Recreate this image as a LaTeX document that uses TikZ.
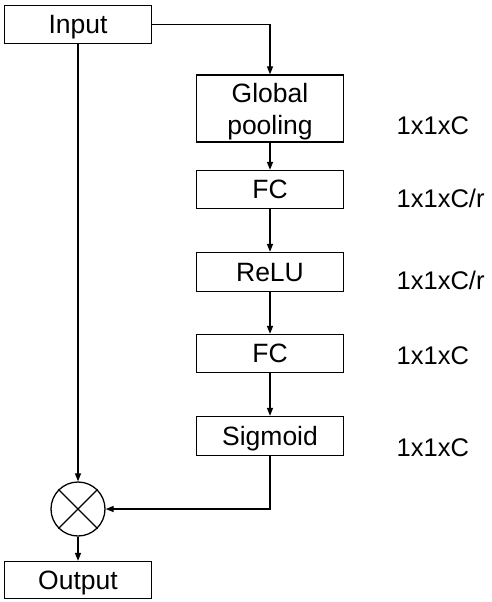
\documentclass[tikz,border=0pt]{standalone}
\usepackage{fontspec}
\setmainfont{Liberation Sans}
\usetikzlibrary{positioning, arrows.meta}

\begin{document}
\begin{tikzpicture}[x=1pt, y=-1pt, line width=1.3pt, >={Triangle[length=8pt, width=6pt]},
		blk/.style={draw, inner sep=0pt, minimum width=147pt, minimum height=38pt, text depth=0pt, align=center, font=\fontsize{26.5}{32}\selectfont},
		dim/.style={anchor=west, inner sep=0pt, font=\fontsize{25.5}{31}\selectfont}]
	\useasboundingbox (0,0) rectangle (492,602);

	\node[blk] (in) at (78,24.5) {Input};
	\node[blk, minimum height=67pt] (pool) at (270,108.5) {Global\\pooling};
	\node[blk] (fc1) at (270,189.5) {FC};
	\node[blk, minimum height=39pt] (relu) at (270,272) {ReLU};
	\node[blk] (fc2) at (270,353.5) {FC};
	\node[blk, minimum height=39pt] (sig) at (270,436) {Sigmoid};

	\node[draw, circle, inner sep=0pt, minimum size=54pt] (mul) at (78,509) {};
	\draw (mul.north west) -- (mul.south east) (mul.north east) -- (mul.south west);
	\node[blk, minimum height=37pt] (out) at (78,580) {Output};

	% shape of each stage
	\node[dim] (d0) at (396,126) {1x1xC};
	\node[dim] (d1) at (396,198) {1x1xC/r};
	\node[dim] (d2) at (396,280) {1x1xC/r};
	\node[dim] (d3) at (396,356) {1x1xC};
	\node[dim] (d4) at (396,448) {1x1xC};

	\draw[->] (in.east) -| (pool.north);
	\draw[->] (pool) -- (fc1);
	\draw[->] (fc1) -- (relu);
	\draw[->] (relu) -- (fc2);
	\draw[->] (fc2) -- (sig);
	\draw[->] (sig.south) |- (mul.east);
	\draw[->] (in) -- (mul);
	\draw[->] (mul) -- (out);
\end{tikzpicture}
\end{document}
